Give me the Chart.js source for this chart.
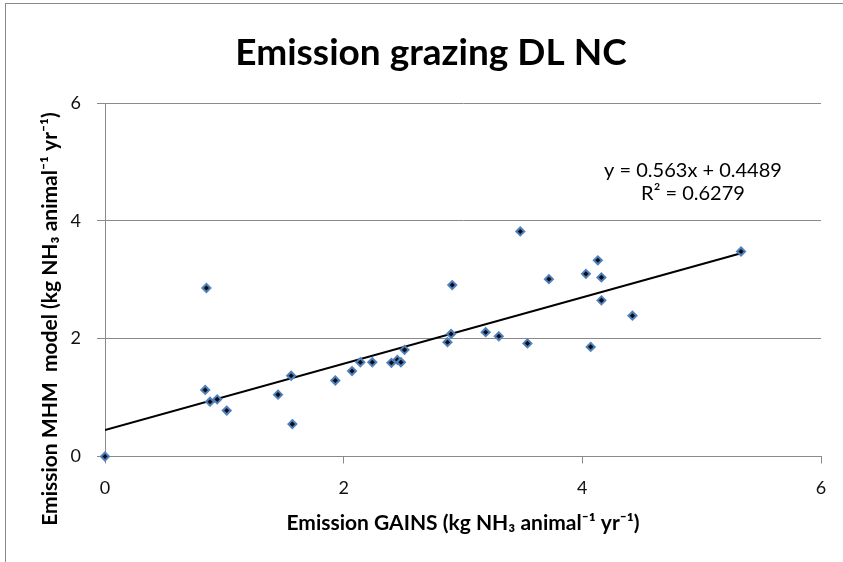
<!DOCTYPE html>
<html>
<head>
<meta charset="utf-8">
<script src="https://cdn.jsdelivr.net/npm/chart.js@4"></script>
<style>
  html, body { margin: 0; padding: 0; background: #fff; }
  #wrap { width: 843px; height: 562px; }
</style>
</head>
<body>
<div id="wrap"><canvas id="emissionChart" width="843" height="562"></canvas></div>
<script>
// Emission GAINS (x) vs Emission MHM model (y), kg NH3 animal-1 yr-1
const gainsValues = [0, 0.84, 0.85, 0.88, 0.94, 1.02, 1.45, 1.56, 1.57, 1.93, 2.07, 2.14, 2.24, 2.40, 2.45, 2.48,
    2.51, 2.87, 2.90, 2.91, 3.19, 3.30, 3.48, 3.54, 3.72, 4.03, 4.07, 4.13, 4.16, 4.16, 4.42, 5.33];
const mhmValues = [0, 1.13, 2.86, 0.93, 0.97, 0.78, 1.05, 1.37, 0.55, 1.29, 1.45, 1.60, 1.60, 1.59, 1.64, 1.60,
    1.81, 1.94, 2.08, 2.91, 2.11, 2.04, 3.82, 1.92, 3.01, 3.10, 1.86, 3.33, 3.04, 2.65, 2.39, 3.48];

// linear trendline as printed on the chart
const trendSlope = 0.563;
const trendIntercept = 0.4489;
const trendR2 = 0.6279;

const axisTicks = [0, 2, 4, 6];

const chartTitle = "Emission grazing DL NC";
const xTitle = "Emission GAINS (kg NH₃ animal⁻¹ yr⁻¹)";
const yTitle = "Emission MHM  model (kg NH₃ animal⁻¹ yr⁻¹)";

const points = gainsValues.map((x, i) => ({ x: x, y: mhmValues[i] }));
const xMin = Math.min(...gainsValues);
const xMax = Math.max(...gainsValues);
const trendPoints = [
    { x: xMin, y: trendSlope * xMin + trendIntercept },
    { x: xMax, y: trendSlope * xMax + trendIntercept }
];

const extras = {
    id: "extras",
    beforeDraw(chart) {
        const c = chart.ctx;
        c.save();
        c.fillStyle = "#fff";
        c.fillRect(0, 0, chart.width, chart.height);
        c.strokeStyle = "#8a8a8a";
        c.lineWidth = 1;
        c.strokeRect(5.5, 3.5, 1000, 1000);
        c.restore();
    },
    afterDraw(chart) {
        const c = chart.ctx;
        c.save();
        c.fillStyle = "#000";
        c.textAlign = "center";
        c.textBaseline = "middle";
        c.font = "bold 37px Lato";
        c.fillText(chartTitle, 431, 53);
        c.font = "20px Lato";
        c.fillText("y = " + trendSlope + "x + " + trendIntercept, 693, 171);
        c.fillText("R² = " + trendR2, 693, 194);
        // y axis title sits a bit lower than the plot centre, like the original
        c.translate(50, 319);
        c.rotate(-Math.PI / 2);
        c.font = "bold 21px Lato";
        c.fillText(yTitle, 0, 0);
        c.restore();
    }
};

new Chart(document.getElementById("emissionChart"), {
    type: "scatter",
    data: {
        datasets: [{
            label: "MHM vs GAINS",
            data: points,
            pointStyle: "rectRot",
            pointRadius: 4,
            pointBackgroundColor: "#0b0b14",
            pointBorderColor: "#4f81bd",
            pointBorderWidth: 2,
            clip: false,
            order: 1
        }, {
            type: "line",
            label: "Trend",
            data: trendPoints,
            borderColor: "#000",
            borderWidth: 2,
            pointRadius: 0,
            fill: false,
            order: 2
        }]
    },
    options: {
        responsive: false,
        animation: false,
        layout: { padding: { top: 103, left: 5, right: 22, bottom: 10 } },
        plugins: {
            legend: { display: false },
            tooltip: { enabled: false },
            title: { display: false }
        },
        scales: {
            x: {
                type: "linear",
                min: 0,
                max: 6,
                afterBuildTicks: s => { s.ticks = axisTicks.map(v => ({ value: v })); },
                afterFit: s => { s.height = 95.5; },
                border: { color: "#8a8a8a", width: 1 },
                grid: { drawOnChartArea: false, drawTicks: true, tickLength: 7, color: "#8a8a8a" },
                ticks: { color: "#111", font: { family: "Lato", size: 18 }, padding: 14, maxRotation: 0 },
                title: {
                    display: true,
                    text: xTitle,
                    color: "#000",
                    font: { family: "Lato", size: 21, weight: "bold" },
                    padding: { top: 0, bottom: 16 }
                }
            },
            y: {
                type: "linear",
                min: 0,
                max: 6,
                afterBuildTicks: s => { s.ticks = axisTicks.map(v => ({ value: v })); },
                afterFit: s => { s.width = 100; },
                border: { color: "#8a8a8a", width: 1 },
                grid: { drawTicks: true, tickLength: 8, color: "#8a8a8a", lineWidth: 1 },
                ticks: { color: "#111", font: { family: "Lato", size: 18 }, padding: 16 }
            }
        }
    },
    plugins: [extras]
});
</script>
</body>
</html>
